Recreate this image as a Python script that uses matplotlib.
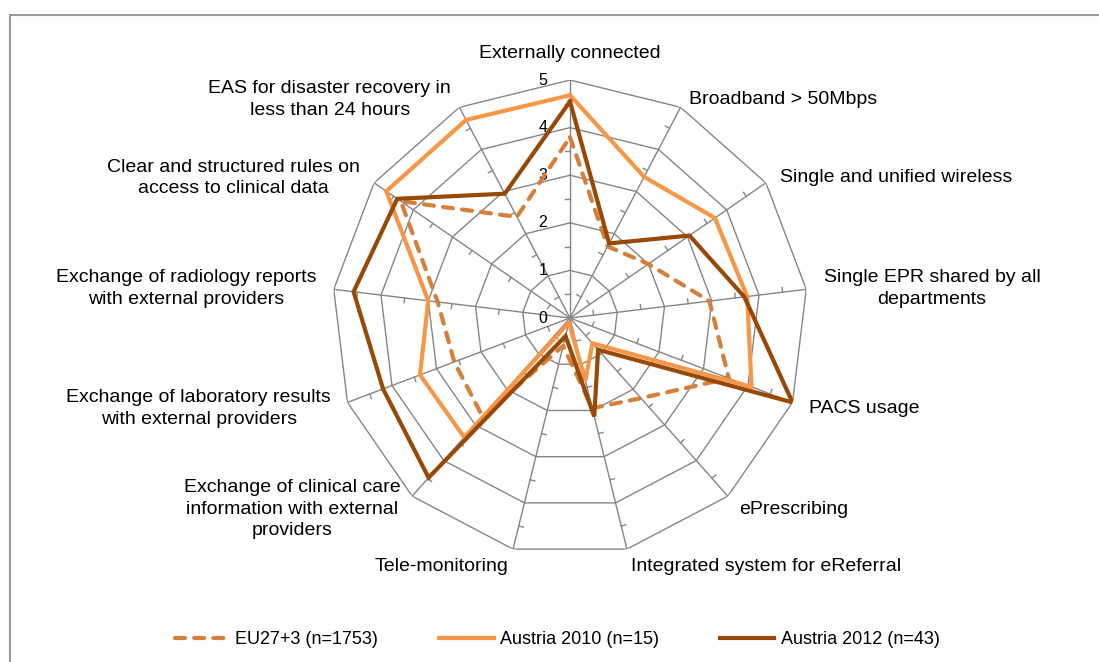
import numpy as np
import matplotlib
matplotlib.use('Agg')
import matplotlib.pyplot as plt
from matplotlib.lines import Line2D
from matplotlib.transforms import offset_copy

plt.rcParams['font.family'] = ['Liberation Sans', 'DejaVu Sans']

# Data
categories = [
    'Externally connected',
    'Broadband > 50Mbps',
    'Single and unified wireless',
    'Single EPR shared by all\ndepartments',
    'PACS usage',
    'ePrescribing',
    'Integrated system for eReferral',
    'Tele-monitoring',
    'Exchange of clinical care\ninformation with external\nproviders',
    'Exchange of laboratory results\nwith external providers',
    'Exchange of radiology reports\nwith external providers',
    'Clear and structured rules on\naccess to clinical data',
    'EAS for disaster recovery in\nless than 24 hours',
]
eu_values = [3.8, 1.7, 2.0, 2.95, 3.57, 2.25, 1.95, 0.6, 2.77, 2.6, 2.8, 4.32, 2.4]
austria_2010 = [4.68, 3.35, 3.7, 3.75, 4.08, 0.71, 1.35, 0.1, 3.35, 3.37, 3.0, 4.69, 4.7]
austria_2012 = [4.55, 1.77, 3.05, 3.69, 5.0, 0.89, 2.13, 0.39, 4.48, 4.2, 4.58, 4.41, 2.95]
series_names = ['EU27+3 (n=1753)', 'Austria 2010 (n=15)', 'Austria 2012 (n=43)']
levels = [0, 1, 2, 3, 4, 5]
minor_levels = [0.5, 1.5, 2.5, 3.5, 4.5]

n = len(categories)
angles = np.linspace(0, 2 * np.pi, n, endpoint=False)
closed = np.append(angles, angles[0])

fig = plt.figure(figsize=(10.99, 6.62), dpi=100)
ax = fig.add_axes([0.3021, 0.1601, 0.4331, 0.719], projection='polar')
ax.set_theta_offset(np.pi / 2)
ax.set_theta_direction(-1)
ax.set_ylim(0, 5)
ax.set_xticks([])
ax.set_yticks([])
ax.grid(False)
ax.spines['polar'].set_visible(False)

grid_color = '#858585'
for lev in levels[1:]:
    ax.plot(closed, [lev] * (n + 1), color=grid_color, lw=1.0, zorder=1)
for a in angles:
    ax.plot([a, a], [0, levels[-1]], color=grid_color, lw=1.0, zorder=1)

# small minor tick marks on every spoke
tick_len = 0.1
for a in angles:
    for r in minor_levels:
        r2 = np.hypot(r, tick_len)
        ax.plot([a, a - np.arctan2(tick_len, r)], [r, r2], color=grid_color, lw=1.0, zorder=1)

# value labels along the vertical axis
lab_tr = offset_copy(ax.transData, fig=fig, x=-27, y=0, units='dots')
for v in levels:
    ax.text(0, v, str(v), transform=lab_tr, ha='center', va='center', fontsize=11.5)

# category labels
for a, label in zip(angles, categories):
    s = np.sin(a)
    if abs(s) < 0.01:
        ax.text(a, 5.55, label, ha='center', va='center', fontsize=14)
    else:
        dy = -9 * max(np.cos(a), 0)
        tr = offset_copy(ax.transData, fig=fig, x=0, y=dy, units='dots')
        ax.text(a, 5.37, label, transform=tr, ha='left' if s > 0 else 'right',
                va='center', multialignment='center', linespacing=1.35, fontsize=14)

l1, = ax.plot(closed, eu_values + eu_values[:1], color='#D4803A', lw=3,
              linestyle=(0, (2.4, 2.2)), dash_capstyle='round', zorder=3)
l2, = ax.plot(closed, austria_2010 + austria_2010[:1], color='#F79646', lw=3,
              solid_joinstyle='miter', zorder=4)
l3, = ax.plot(closed, austria_2012 + austria_2012[:1], color='#984807', lw=3,
              solid_joinstyle='miter', zorder=5)

ax.legend([l1, l2, l3], series_names, loc='center', bbox_to_anchor=(0.507, 0.034),
          bbox_transform=fig.transFigure, ncol=3, frameon=False, fontsize=13,
          handlelength=3.0, handletextpad=0.35, columnspacing=3.4)

# chart border (top and left visible in the crop)
fig.add_artist(Line2D([10 / 1099, 1], [1 - 15 / 662] * 2, transform=fig.transFigure,
                      color='#9a9a9a', lw=1.5))
fig.add_artist(Line2D([10 / 1099] * 2, [0, 1 - 15 / 662], transform=fig.transFigure,
                      color='#9a9a9a', lw=1.5))

fig.savefig('out.png', dpi=100)
